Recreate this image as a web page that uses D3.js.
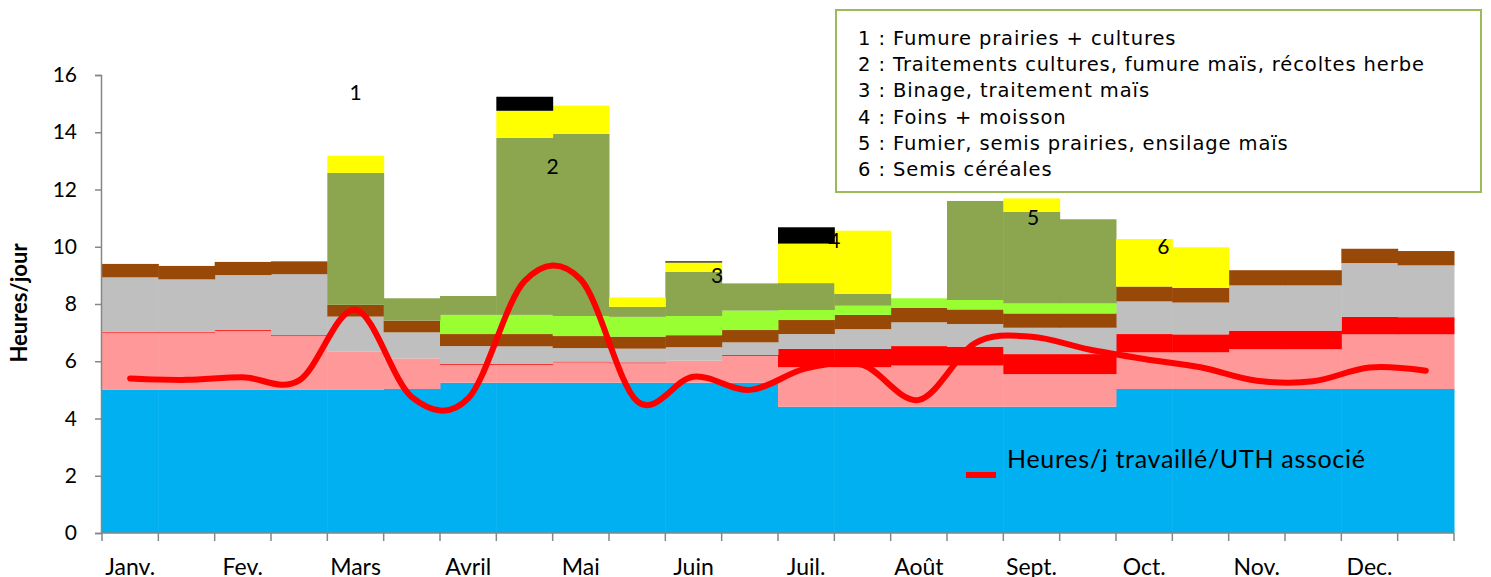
<!DOCTYPE html>
<html>
<head>
<style>
  body { margin: 0; background: #fff; }
  svg text { font-family: Lato, "Noto Sans", sans-serif; }
</style>
<script src="https://d3js.org/d3.v7.min.js"></script>
</head>
<body>
<script>
// half-month periods, 2 per month
const periods = d3.range(24);
const months = ["Janv.", "Fev.", "Mars", "Avril", "Mai", "Juin", "Juil.", "Août", "Sept.", "Oct.", "Nov.", "Dec."];
const yTicks = [0, 2, 4, 6, 8, 10, 12, 14, 16];

// stacked segments, bottom to top (hours/day)
const blue   = [5.0, 5.0, 5.0, 5.0, 5.0, 5.03, 5.25, 5.25, 5.25, 5.25, 5.25, 5.25, 4.41, 4.41, 4.41, 4.41, 4.41, 4.41, 5.03, 5.03, 5.03, 5.03, 5.03, 5.03];
const pink   = [2.0, 2.0, 2.06, 1.88, 1.33, 1.07, 0.62, 0.62, 0.71, 0.68, 0.77, 0.94, 1.38, 1.38, 1.44, 1.44, 1.14, 1.14, 1.28, 1.28, 1.39, 1.39, 1.91, 1.91];
const red    = [0.03, 0.03, 0.03, 0.03, 0, 0, 0.03, 0.03, 0.03, 0.03, 0, 0.03, 0.64, 0.64, 0.68, 0.66, 0.70, 0.70, 0.64, 0.63, 0.65, 0.65, 0.61, 0.60];
const gray   = [1.9, 1.83, 1.92, 2.13, 1.23, 0.91, 0.63, 0.62, 0.47, 0.48, 0.47, 0.44, 0.52, 0.69, 0.83, 0.79, 0.92, 0.92, 1.14, 1.11, 1.58, 1.58, 1.88, 1.81];
const brown  = [0.47, 0.47, 0.46, 0.45, 0.41, 0.41, 0.42, 0.43, 0.42, 0.42, 0.42, 0.43, 0.49, 0.50, 0.50, 0.51, 0.50, 0.50, 0.52, 0.51, 0.53, 0.53, 0.50, 0.50];
const lime   = [0, 0, 0, 0, 0, 0, 0.67, 0.67, 0.70, 0.69, 0.67, 0.68, 0.35, 0.32, 0.34, 0.33, 0.35, 0.35, 0, 0, 0, 0, 0, 0];
const olive  = [0, 0, 0, 0, 4.61, 0.78, 0.66, 6.18, 6.36, 0.35, 1.54, 0.95, 0.94, 0.41, 0, 3.46, 3.2, 2.94, 0, 0, 0, 0, 0, 0];
const yellow = [0, 0, 0, 0, 0.6, 0, 0, 0.95, 0.99, 0.33, 0.33, 0, 1.38, 2.21, 0, 0, 0.47, 0, 1.66, 1.42, 0, 0, 0, 0];
const black  = [0, 0, 0, 0, 0, 0, 0, 0.49, 0, 0, 0.04, 0, 0.57, 0, 0, 0, 0, 0, 0, 0, 0, 0, 0, 0];

// line: hours worked per day per associated worker
const hoursPerUTH = [5.4, 5.35, 5.44, 5.33, 7.8, 4.75, 4.7, 8.8, 8.85, 4.6, 5.46, 5.0, 5.75, 5.87, 4.65, 6.63, 6.86, 6.42, 6.08, 5.79, 5.32, 5.3, 5.78, 5.67];

// period annotations: label, position (period index, may be fractional), height
const noteLabels = ["1", "2", "3", "4", "5", "6"];
const notePos    = [4, 7.5, 10.42, 12.5, 16.03, 18.34];
const noteY      = [15.12, 12.55, 8.74, 9.97, 10.76, 9.75];

const legendLines = [
  "1 : Fumure prairies + cultures",
  "2 : Traitements cultures, fumure maïs, récoltes herbe",
  "3 : Binage, traitement maïs",
  "4 : Foins + moisson",
  "5 : Fumier, semis prairies, ensilage maïs",
  "6 : Semis céréales"
];

const keys = ["blue", "pink", "red", "gray", "brown", "lime", "olive", "yellow", "black"];
const series = {blue, pink, red, gray, brown, lime, olive, yellow, black};
const colors = {
  blue: "#00B0F0", pink: "#FF9999", red: "#FF0000", gray: "#BFBFBF", brown: "#984807",
  lime: "#99FF33", olive: "#8BA64E", yellow: "#FFFF00", black: "#000000"
};

const W = 1491, H = 577;
const svg = d3.select("body").append("svg").attr("width", W).attr("height", H);

const x = d3.scaleBand().domain(periods).range([102, 1454]).padding(0);
const y = d3.scaleLinear().domain([0, 16]).range([533, 75]);

const table = periods.map(i => {
  const row = {i};
  keys.forEach(k => row[k] = series[k][i]);
  return row;
});
const stacked = d3.stack().keys(keys)(table);

svg.append("g").selectAll("g")
  .data(stacked)
  .join("g")
  .attr("fill", d => colors[d.key])
  .selectAll("rect")
  .data(d => d.filter(s => s[1] - s[0] > 0))
  .join("rect")
  .attr("x", d => x(d.data.i))
  .attr("width", x.bandwidth() + 0.5)
  .attr("y", d => y(d[1]))
  .attr("height", d => y(d[0]) - y(d[1]));

// axes
const axisColor = "#868686";
const yAxis = svg.append("g")
  .attr("transform", "translate(101,0)")
  .call(d3.axisLeft(y).tickValues(yTicks).tickSize(6).tickPadding(18));
yAxis.selectAll("text").attr("font-size", 21).attr("fill", "#000").style("font-family", "Lato, sans-serif");
yAxis.select(".domain").attr("stroke", axisColor).attr("stroke-width", 1.5);
yAxis.selectAll(".tick line").attr("stroke", axisColor).attr("stroke-width", 1.5);

const xAxis = svg.append("g")
  .attr("transform", "translate(0,533)");
xAxis.append("line")
  .attr("x1", 101).attr("x2", 1454)
  .attr("stroke", axisColor).attr("stroke-width", 1.5);
xAxis.selectAll("line.tick")
  .data(d3.range(25))
  .join("line")
  .attr("class", "tick")
  .attr("x1", i => i < 24 ? x(i) : x(23) + x.bandwidth())
  .attr("x2", i => i < 24 ? x(i) : x(23) + x.bandwidth())
  .attr("y1", 0).attr("y2", 8)
  .attr("stroke", axisColor).attr("stroke-width", 1.5);
xAxis.selectAll("text")
  .data(months)
  .join("text")
  .attr("x", (m, i) => x(i * 2) + x.bandwidth() / 2)
  .attr("y", 42)
  .attr("text-anchor", "middle")
  .attr("font-size", 23)
  .text(m => m);

svg.append("text")
  .attr("transform", "translate(27,303) rotate(-90)")
  .attr("text-anchor", "middle")
  .attr("font-size", 22)
  .attr("font-weight", "bold")
  .text("Heures/jour");

// line
const line = d3.line()
  .x((v, i) => x(i) + x.bandwidth() / 2)
  .y(v => y(v))
  .curve(d3.curveCatmullRom.alpha(0));
svg.append("path")
  .datum(hoursPerUTH)
  .attr("d", line)
  .attr("fill", "none")
  .attr("stroke", "#FF0000")
  .attr("stroke-width", 6)
  .attr("stroke-linecap", "round");

// annotations
svg.append("g").selectAll("text")
  .data(noteLabels)
  .join("text")
  .attr("x", (t, i) => x(Math.floor(notePos[i])) + x.bandwidth() * (notePos[i] % 1 + 0.5))
  .attr("y", (t, i) => y(noteY[i]))
  .attr("text-anchor", "middle")
  .attr("font-size", 21)
  .text(t => t);

// line legend
svg.append("line")
  .attr("x1", 966).attr("x2", 996).attr("y1", 475).attr("y2", 475)
  .attr("stroke", "#FF0000").attr("stroke-width", 6);
svg.append("text")
  .attr("x", 1007).attr("y", 468)
  .attr("font-size", 25)
  .attr("letter-spacing", 0.7)
  .text("Heures/j travaillé/UTH associé");

// notes box
svg.append("rect")
  .attr("x", 836).attr("y", 10).attr("width", 645).attr("height", 182)
  .attr("fill", "#fff").attr("stroke", "#9BBB59").attr("stroke-width", 2);
svg.append("g").selectAll("text")
  .data(legendLines)
  .join("text")
  .attr("x", 858)
  .attr("y", (t, i) => 45 + i * 26.2)
  .attr("font-size", 19.5)
  .attr("letter-spacing", 0.9)
  .style("font-family", "'DejaVu Sans', Verdana, sans-serif")
  .text(t => t);
</script>
</body>
</html>
